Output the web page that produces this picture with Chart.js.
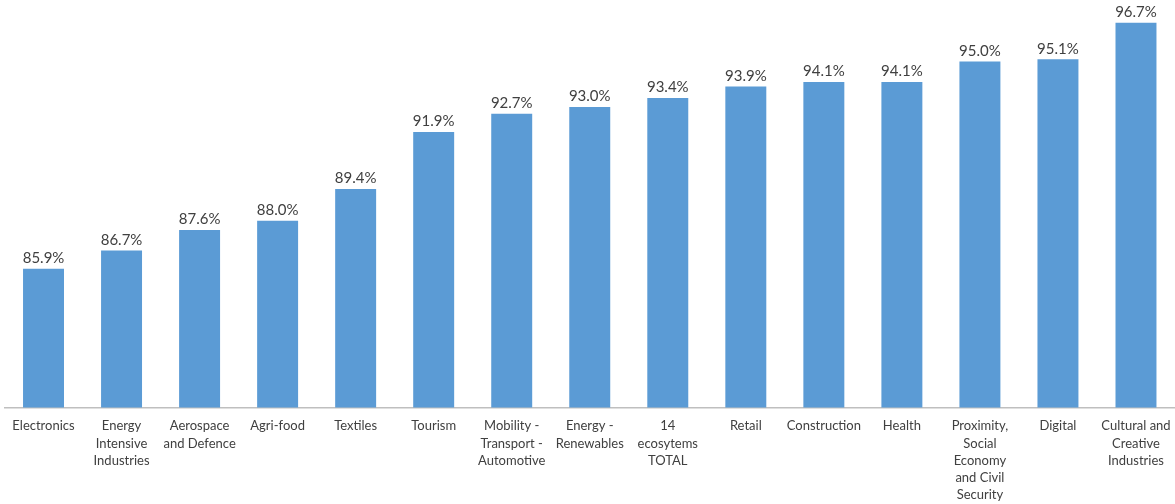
<!DOCTYPE html>
<html>
<head>
<meta charset="utf-8">
<script src="https://cdn.jsdelivr.net/npm/chart.js@4/dist/chart.umd.min.js"></script>
<style>
  html, body { margin: 0; padding: 0; background: #ffffff; }
  #wrap { position: relative; width: 1175px; height: 504px; }
</style>
</head>
<body>
<div id="wrap"><canvas id="chart"></canvas></div>
<script>
// Ecosystem categories (multi-line labels)
const categories = [
  ["Electronics"],
  ["Energy", "Intensive", "Industries"],
  ["Aerospace", "and Defence"],
  ["Agri-food"],
  ["Textiles"],
  ["Tourism"],
  ["Mobility -", "Transport -", "Automotive"],
  ["Energy -", "Renewables"],
  ["14", "ecosytems", "TOTAL"],
  ["Retail"],
  ["Construction"],
  ["Health"],
  ["Proximity,", "Social", "Economy", "and Civil", "Security"],
  ["Digital"],
  ["Cultural and", "Creative", "Industries"]
];

// Share per ecosystem, in percent
const shareValues = [85.9, 86.7, 87.6, 88.0, 89.4, 91.9, 92.7, 93.0, 93.4, 93.9, 94.1, 94.1, 95.0, 95.1, 96.7];

const textColor = "#404040";
const barColor = "#5b9bd5";

// Draws the percentage above each bar
const valueLabels = {
  id: "valueLabels",
  afterDatasetsDraw(chart) {
    const ctx = chart.ctx;
    const meta = chart.getDatasetMeta(0);
    ctx.save();
    ctx.font = "15px Lato";
    ctx.fillStyle = textColor;
    ctx.textAlign = "center";
    ctx.textBaseline = "bottom";
    meta.data.forEach((bar, i) => {
      ctx.fillText(shareValues[i].toFixed(1) + "%", bar.x, bar.y - 3);
    });
    ctx.restore();
  }
};

new Chart(document.getElementById("chart"), {
  type: "bar",
  data: {
    labels: categories,
    datasets: [{
      data: shareValues,
      backgroundColor: barColor,
      borderWidth: 0,
      barPercentage: 0.525,
      categoryPercentage: 1
    }]
  },
  options: {
    responsive: true,
    maintainAspectRatio: false,
    animation: false,
    layout: { padding: { left: 4.5, right: 0, top: 0, bottom: 0 } },
    plugins: {
      legend: { display: false },
      tooltip: { enabled: false }
    },
    scales: {
      x: {
        grid: { display: false, drawTicks: false },
        border: { display: true, color: "#bfbfbf", width: 1.5 },
        ticks: {
          color: textColor,
          font: { family: "Lato", size: 13, lineHeight: 1.33 },
          padding: 10,
          maxRotation: 0,
          autoSkip: false
        },
        afterFit(scale) {
          scale.height = 96.5;
          scale.paddingLeft = 0;
          scale.paddingRight = 0;
        }
      },
      y: {
        display: false,
        min: 79.8,
        max: 97.7
      }
    }
  },
  plugins: [valueLabels]
});
</script>
</body>
</html>
